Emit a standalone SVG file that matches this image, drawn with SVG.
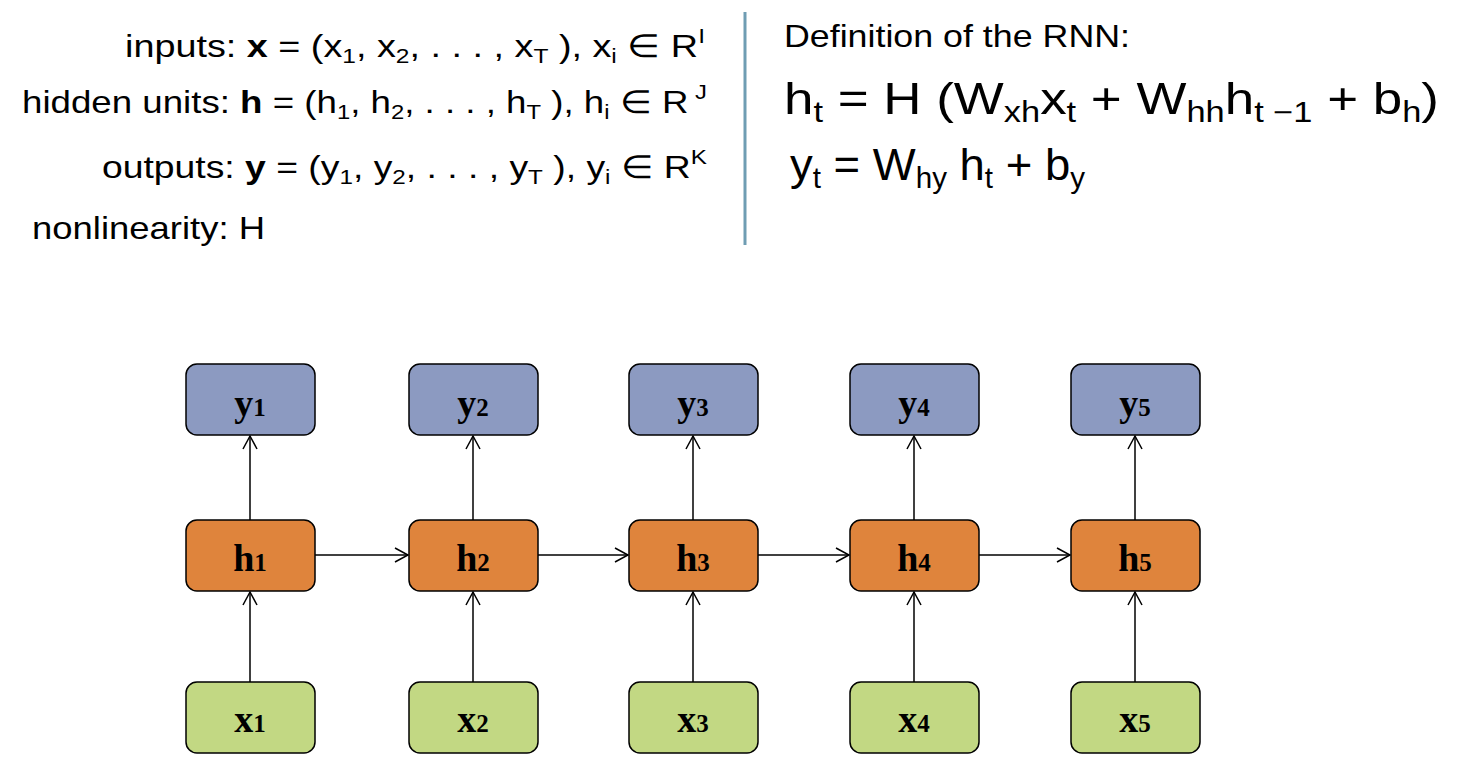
<svg xmlns="http://www.w3.org/2000/svg" width="1466" height="760" viewBox="0 0 1466 760">
<style>
.t{font-family:"Liberation Sans",Arial,sans-serif;font-size:32px;fill:#000}
.e{font-family:"Liberation Sans",Arial,sans-serif;font-size:44px;fill:#000}
.s{font-size:65%}
.n{stroke:#000;stroke-width:1.5}
.y{fill:#8c9ac1}.h{fill:#df843c}.x{fill:#c2d883}
.l{font-family:"Liberation Serif","Times New Roman",serif;font-weight:bold;font-size:38px;text-anchor:middle}
.l tspan{font-size:25px}
.c line{stroke:#000;stroke-width:1.5;marker-end:url(#a)}
</style>
<defs><marker id="a" markerWidth="16" markerHeight="16" refX="14" refY="8" orient="auto" markerUnits="userSpaceOnUse"><path d="M1,1 L14,8 L1,15" fill="none" stroke="#000" stroke-width="1.5"/></marker></defs>
<g id="legend">
<text class="t" x="125" y="57" textLength="580" lengthAdjust="spacingAndGlyphs">inputs: <tspan font-weight="bold">x</tspan> = (x<tspan class="s" dy="6">1</tspan><tspan dy="-6">,  x</tspan><tspan class="s" dy="6">2</tspan><tspan dy="-6">,  . . . , x</tspan><tspan class="s" dy="6">T</tspan><tspan dy="-6"> ), x</tspan><tspan class="s" dy="6">i</tspan><tspan dy="-6"> ∈ R</tspan><tspan class="s" dy="-14">I</tspan></text>
<text class="t" x="22" y="113" textLength="685" lengthAdjust="spacingAndGlyphs">hidden units: <tspan font-weight="bold">h</tspan> = (h<tspan class="s" dy="6">1</tspan><tspan dy="-6">,  h</tspan><tspan class="s" dy="6">2</tspan><tspan dy="-6">,  . . . , h</tspan><tspan class="s" dy="6">T</tspan><tspan dy="-6"> ), h</tspan><tspan class="s" dy="6">i</tspan><tspan dy="-6"> ∈ R</tspan><tspan class="s" dy="-14"> J</tspan></text>
<text class="t" x="102" y="178" textLength="605" lengthAdjust="spacingAndGlyphs">outputs: <tspan font-weight="bold">y</tspan> = (y<tspan class="s" dy="6">1</tspan><tspan dy="-6">,  y</tspan><tspan class="s" dy="6">2</tspan><tspan dy="-6">,  . . . , y</tspan><tspan class="s" dy="6">T</tspan><tspan dy="-6"> ), y</tspan><tspan class="s" dy="6">i</tspan><tspan dy="-6"> ∈ R</tspan><tspan class="s" dy="-14">K</tspan></text>
<text class="t" x="32" y="239" textLength="233" lengthAdjust="spacingAndGlyphs">nonlinearity: H</text>
</g>
<line x1="745" y1="12" x2="745" y2="245" stroke="#6f9db3" stroke-width="3"/>
<g id="definition">
<text class="t" x="784" y="47" textLength="346" lengthAdjust="spacingAndGlyphs">Definition of the RNN:</text>
<text class="e" x="784" y="114" textLength="655" lengthAdjust="spacingAndGlyphs">h<tspan class="s" dy="8">t</tspan><tspan dy="-8">  =  H  (W</tspan><tspan class="s" dy="8">xh</tspan><tspan dy="-8">x</tspan><tspan class="s" dy="8">t</tspan><tspan dy="-8">  +  W</tspan><tspan class="s" dy="8">hh</tspan><tspan dy="-8">h</tspan><tspan class="s" dy="8">t −1</tspan><tspan dy="-8"> + b</tspan><tspan class="s" dy="8">h</tspan><tspan dy="-8">)</tspan></text>
<text class="e" x="790" y="180" textLength="295" lengthAdjust="spacingAndGlyphs">y<tspan class="s" dy="8">t</tspan><tspan dy="-8"> = W</tspan><tspan class="s" dy="8">hy</tspan><tspan dy="-8"> h</tspan><tspan class="s" dy="8">t</tspan><tspan dy="-8"> + b</tspan><tspan class="s" dy="8">y</tspan></text>
</g>
<g class="c" id="connectors">
<line x1="250" y1="682" x2="250" y2="592"/><line x1="473" y1="682" x2="473" y2="592"/><line x1="693" y1="682" x2="693" y2="592"/><line x1="914" y1="682" x2="914" y2="592"/><line x1="1135" y1="682" x2="1135" y2="592"/>
<line x1="250" y1="520" x2="250" y2="436"/><line x1="473" y1="520" x2="473" y2="436"/><line x1="693" y1="520" x2="693" y2="436"/><line x1="914" y1="520" x2="914" y2="436"/><line x1="1135" y1="520" x2="1135" y2="436"/>
<line x1="315" y1="555" x2="408" y2="555"/><line x1="538" y1="555" x2="628" y2="555"/><line x1="758" y1="555" x2="849" y2="555"/><line x1="979" y1="555" x2="1070" y2="555"/>
</g>
<g id="y1"><rect class="n y" x="186" y="364" width="129" height="71" rx="11"/><text class="l" x="250" y="416">y<tspan>1</tspan></text></g>
<g id="y2"><rect class="n y" x="409" y="364" width="129" height="71" rx="11"/><text class="l" x="473" y="416">y<tspan>2</tspan></text></g>
<g id="y3"><rect class="n y" x="629" y="364" width="129" height="71" rx="11"/><text class="l" x="693" y="416">y<tspan>3</tspan></text></g>
<g id="y4"><rect class="n y" x="850" y="364" width="129" height="71" rx="11"/><text class="l" x="914" y="416">y<tspan>4</tspan></text></g>
<g id="y5"><rect class="n y" x="1071" y="364" width="129" height="71" rx="11"/><text class="l" x="1135" y="416">y<tspan>5</tspan></text></g>
<g id="h1"><rect class="n h" x="186" y="520" width="129" height="71" rx="11"/><text class="l" x="250" y="571">h<tspan>1</tspan></text></g>
<g id="h2"><rect class="n h" x="409" y="520" width="129" height="71" rx="11"/><text class="l" x="473" y="571">h<tspan>2</tspan></text></g>
<g id="h3"><rect class="n h" x="629" y="520" width="129" height="71" rx="11"/><text class="l" x="693" y="571">h<tspan>3</tspan></text></g>
<g id="h4"><rect class="n h" x="850" y="520" width="129" height="71" rx="11"/><text class="l" x="914" y="571">h<tspan>4</tspan></text></g>
<g id="h5"><rect class="n h" x="1071" y="520" width="129" height="71" rx="11"/><text class="l" x="1135" y="571">h<tspan>5</tspan></text></g>
<g id="x1"><rect class="n x" x="186" y="682" width="129" height="71" rx="11"/><text class="l" x="250" y="732">x<tspan>1</tspan></text></g>
<g id="x2"><rect class="n x" x="409" y="682" width="129" height="71" rx="11"/><text class="l" x="473" y="732">x<tspan>2</tspan></text></g>
<g id="x3"><rect class="n x" x="629" y="682" width="129" height="71" rx="11"/><text class="l" x="693" y="732">x<tspan>3</tspan></text></g>
<g id="x4"><rect class="n x" x="850" y="682" width="129" height="71" rx="11"/><text class="l" x="914" y="732">x<tspan>4</tspan></text></g>
<g id="x5"><rect class="n x" x="1071" y="682" width="129" height="71" rx="11"/><text class="l" x="1135" y="732">x<tspan>5</tspan></text></g>
</svg>
